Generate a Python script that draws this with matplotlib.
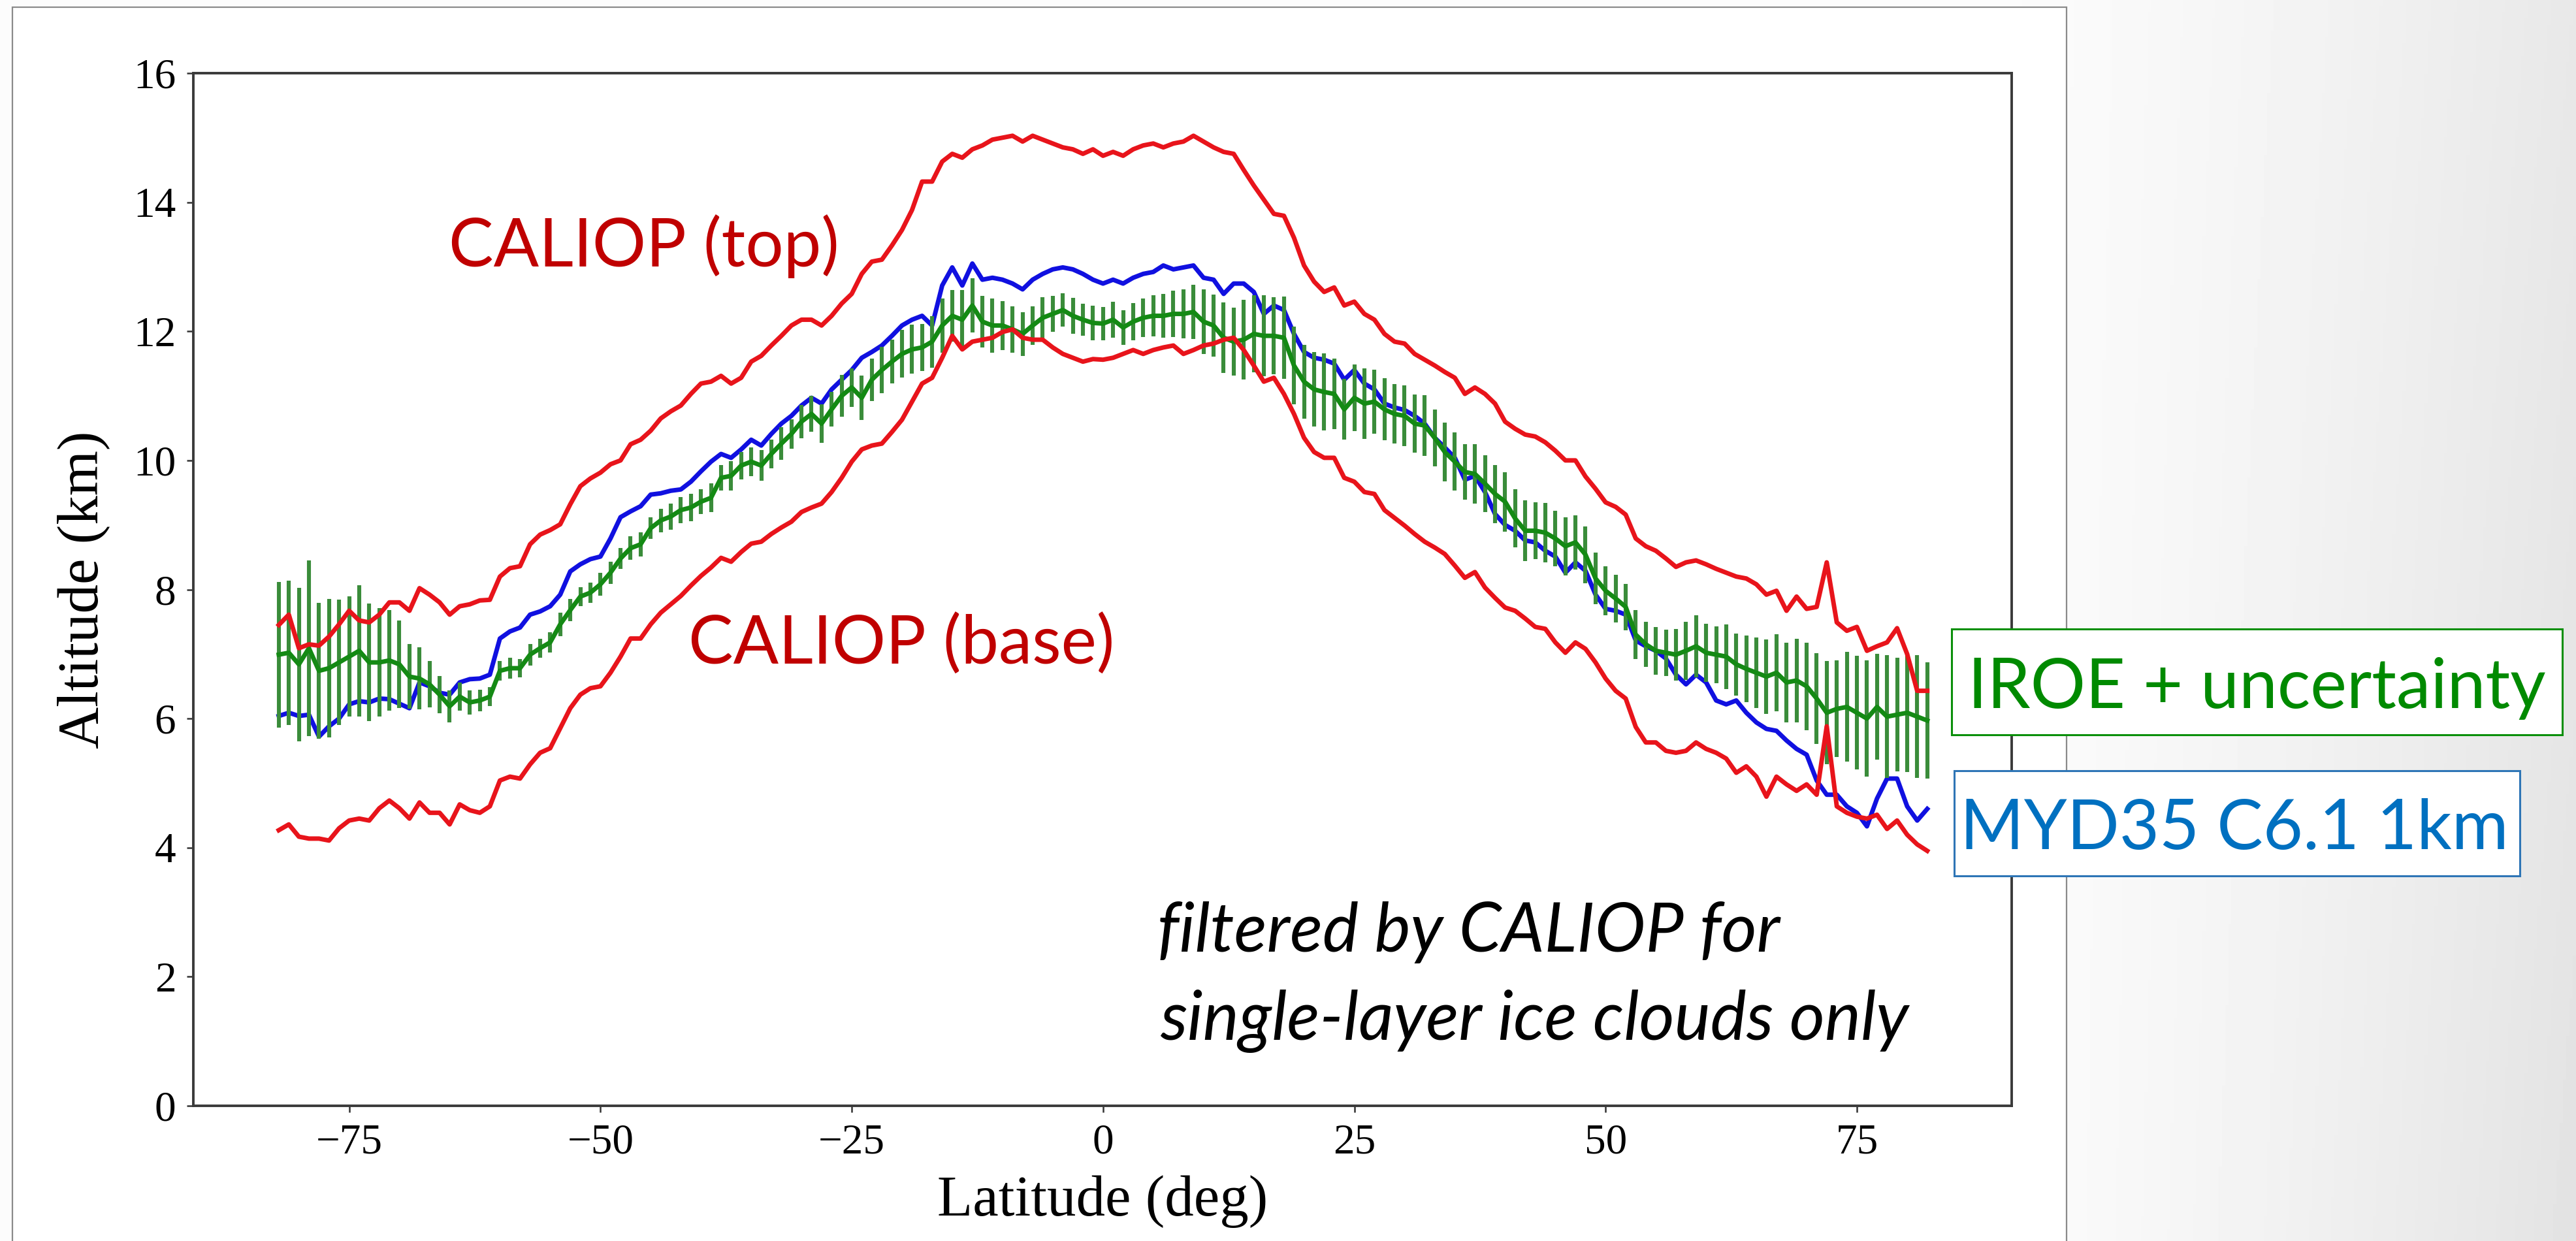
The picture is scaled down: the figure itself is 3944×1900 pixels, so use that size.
import matplotlib
matplotlib.use("Agg")
import matplotlib.pyplot as plt
import numpy as np
from matplotlib.patches import Rectangle

# latitude grid (1 deg bins) and zonal mean heights (km)
lat = np.arange(-82, 83)

caliop_top = [
    7.45, 7.61, 7.09, 7.15, 7.13, 7.27, 7.46, 7.67, 7.52, 7.49,
    7.61, 7.80, 7.80, 7.67, 8.02, 7.92, 7.80, 7.61, 7.74, 7.77,
    7.83, 7.84, 8.20, 8.33, 8.36, 8.70, 8.85, 8.92, 9.01, 9.32,
    9.60, 9.72, 9.81, 9.94, 10.00, 10.25, 10.32, 10.46, 10.65, 10.76,
    10.85, 11.03, 11.19, 11.22, 11.31, 11.19, 11.28, 11.53, 11.62, 11.78,
    11.93, 12.09, 12.18, 12.18, 12.09, 12.24, 12.43, 12.58, 12.89, 13.08,
    13.11, 13.33, 13.57, 13.88, 14.32, 14.32, 14.63, 14.75, 14.69, 14.82,
    14.88, 14.97, 15.00, 15.03, 14.94, 15.03, 14.97, 14.91, 14.85, 14.82,
    14.75, 14.82, 14.72, 14.78, 14.72, 14.82, 14.88, 14.91, 14.85, 14.91,
    14.94, 15.03, 14.94, 14.85, 14.78, 14.75, 14.50, 14.26, 14.04, 13.82,
    13.79, 13.45, 13.02, 12.77, 12.61, 12.68, 12.40, 12.46, 12.27, 12.18,
    11.96, 11.84, 11.81, 11.65, 11.56, 11.47, 11.37, 11.28, 11.03, 11.13,
    11.03, 10.88, 10.60, 10.49, 10.40, 10.37, 10.28, 10.15, 10.00, 10.00,
    9.75, 9.56, 9.35, 9.28, 9.16, 8.79, 8.67, 8.60, 8.48, 8.35,
    8.42, 8.45, 8.39, 8.32, 8.26, 8.20, 8.17, 8.08, 7.92, 7.98,
    7.67, 7.89, 7.70, 7.73, 8.42, 7.49, 7.36, 7.42, 7.05, 7.12,
    7.18, 7.40, 7.00, 6.43, 6.43,
]

caliop_base = [
    4.27, 4.36, 4.17, 4.14, 4.14, 4.11, 4.30, 4.42, 4.45, 4.42,
    4.61, 4.73, 4.61, 4.45, 4.70, 4.54, 4.54, 4.36, 4.67, 4.58,
    4.54, 4.64, 5.04, 5.10, 5.07, 5.29, 5.47, 5.54, 5.85, 6.16,
    6.37, 6.47, 6.50, 6.71, 6.96, 7.24, 7.24, 7.46, 7.64, 7.77,
    7.90, 8.06, 8.21, 8.34, 8.49, 8.43, 8.58, 8.71, 8.74, 8.86,
    8.96, 9.05, 9.20, 9.27, 9.33, 9.51, 9.73, 9.98, 10.17, 10.23,
    10.26, 10.44, 10.63, 10.91, 11.19, 11.28, 11.59, 11.93, 11.72, 11.84,
    11.87, 11.90, 11.99, 12.03, 11.90, 11.87, 11.87, 11.75, 11.65, 11.59,
    11.53, 11.57, 11.56, 11.59, 11.65, 11.71, 11.65, 11.71, 11.75, 11.78,
    11.65, 11.71, 11.78, 11.81, 11.87, 11.90, 11.71, 11.47, 11.22, 11.28,
    11.03, 10.72, 10.35, 10.13, 10.04, 10.04, 9.73, 9.67, 9.51, 9.48,
    9.23, 9.11, 8.99, 8.86, 8.74, 8.65, 8.55, 8.37, 8.18, 8.27,
    8.03, 7.87, 7.72, 7.67, 7.55, 7.42, 7.39, 7.18, 7.02, 7.18,
    7.08, 6.87, 6.62, 6.43, 6.31, 5.87, 5.63, 5.63, 5.50, 5.47,
    5.50, 5.63, 5.53, 5.47, 5.38, 5.16, 5.26, 5.10, 4.79, 5.10,
    4.98, 4.88, 4.98, 4.82, 5.88, 4.64, 4.54, 4.48, 4.45, 4.51,
    4.29, 4.42, 4.20, 4.05, 3.95,
]

myd35 = [
    6.04, 6.09, 6.04, 6.06, 5.72, 5.88, 6.00, 6.22, 6.27, 6.25,
    6.31, 6.30, 6.23, 6.16, 6.56, 6.50, 6.40, 6.37, 6.56, 6.61,
    6.62, 6.68, 7.24, 7.35, 7.41, 7.61, 7.66, 7.74, 7.92, 8.28,
    8.39, 8.47, 8.51, 8.79, 9.12, 9.21, 9.29, 9.47, 9.49, 9.53,
    9.55, 9.67, 9.83, 9.98, 10.10, 10.04, 10.17, 10.32, 10.23, 10.41,
    10.57, 10.69, 10.85, 10.97, 10.88, 11.10, 11.25, 11.40, 11.59, 11.68,
    11.78, 11.93, 12.09, 12.18, 12.24, 12.09, 12.71, 12.99, 12.71, 13.05,
    12.80, 12.83, 12.80, 12.74, 12.65, 12.80, 12.89, 12.96, 12.99, 12.96,
    12.89, 12.80, 12.74, 12.80, 12.74, 12.83, 12.89, 12.92, 13.02, 12.96,
    12.99, 13.02, 12.83, 12.80, 12.58, 12.74, 12.74, 12.61, 12.27, 12.40,
    12.33, 11.96, 11.68, 11.59, 11.56, 11.50, 11.25, 11.40, 11.19, 11.10,
    10.88, 10.82, 10.78, 10.69, 10.57, 10.35, 10.20, 10.04, 9.70, 9.76,
    9.51, 9.17, 9.00, 8.91, 8.76, 8.73, 8.60, 8.51, 8.26, 8.42,
    8.29, 7.92, 7.70, 7.67, 7.61, 7.21, 7.12, 7.05, 6.93, 6.68,
    6.53, 6.68, 6.56, 6.28, 6.22, 6.28, 6.09, 5.94, 5.84, 5.81,
    5.66, 5.53, 5.44, 5.04, 4.82, 4.82, 4.64, 4.54, 4.33, 4.76,
    5.07, 5.07, 4.64, 4.42, 4.60,
]

iroe = [
    6.99, 7.02, 6.84, 7.09, 6.74, 6.78, 6.87, 6.96, 7.05, 6.87,
    6.87, 6.90, 6.84, 6.65, 6.62, 6.53, 6.37, 6.19, 6.34, 6.25,
    6.28, 6.34, 6.74, 6.78, 6.78, 6.99, 7.09, 7.18, 7.46, 7.68,
    7.89, 7.95, 8.08, 8.26, 8.48, 8.64, 8.70, 8.95, 9.07, 9.13,
    9.23, 9.27, 9.36, 9.42, 9.73, 9.76, 9.92, 9.98, 9.92, 10.10,
    10.26, 10.41, 10.60, 10.72, 10.57, 10.79, 11.00, 11.13, 10.97, 11.25,
    11.40, 11.53, 11.65, 11.72, 11.75, 11.84, 12.09, 12.24, 12.18, 12.40,
    12.15, 12.09, 12.09, 12.03, 11.96, 12.09, 12.21, 12.27, 12.33, 12.24,
    12.18, 12.13, 12.12, 12.18, 12.06, 12.15, 12.21, 12.24, 12.24, 12.27,
    12.27, 12.30, 12.15, 12.09, 11.90, 11.84, 11.87, 11.96, 11.93, 11.93,
    11.90, 11.47, 11.22, 11.10, 11.06, 11.03, 10.79, 10.97, 10.88, 10.91,
    10.79, 10.72, 10.69, 10.57, 10.54, 10.35, 10.13, 9.98, 9.82, 9.79,
    9.64, 9.48, 9.36, 9.10, 8.91, 8.91, 8.88, 8.79, 8.67, 8.73,
    8.54, 8.17, 7.98, 7.86, 7.73, 7.30, 7.15, 7.05, 7.02, 6.99,
    7.05, 7.12, 7.02, 6.99, 6.96, 6.84, 6.77, 6.71, 6.65, 6.71,
    6.56, 6.59, 6.50, 6.31, 6.09, 6.15, 6.18, 6.09, 6.00, 6.18,
    6.03, 6.06, 6.09, 6.03, 5.97,
]

iroe_err = [
    1.13, 1.12, 1.19, 1.36, 1.05, 1.07, 0.97, 0.93, 1.02, 0.91,
    0.84, 0.78, 0.68, 0.50, 0.48, 0.36, 0.29, 0.25, 0.22, 0.19,
    0.17, 0.15, 0.15, 0.16, 0.14, 0.17, 0.15, 0.16, 0.18, 0.17,
    0.15, 0.16, 0.18, 0.17, 0.16, 0.18, 0.19, 0.17, 0.18, 0.20,
    0.20, 0.21, 0.19, 0.22, 0.20, 0.23, 0.21, 0.22, 0.24, 0.22,
    0.25, 0.23, 0.26, 0.28, 0.30, 0.27, 0.32, 0.30, 0.34, 0.33,
    0.36, 0.34, 0.37, 0.38, 0.36, 0.40, 0.42, 0.40, 0.46, 0.42,
    0.40, 0.42, 0.38, 0.36, 0.34, 0.30, 0.32, 0.28, 0.26, 0.28,
    0.25, 0.27, 0.26, 0.28, 0.27, 0.29, 0.30, 0.32, 0.34, 0.36,
    0.38, 0.42, 0.50, 0.48, 0.55, 0.53, 0.62, 0.60, 0.63, 0.60,
    0.64, 0.60, 0.57, 0.58, 0.60, 0.55, 0.47, 0.52, 0.55, 0.50,
    0.48, 0.46, 0.47, 0.45, 0.47, 0.44, 0.46, 0.45, 0.43, 0.46,
    0.44, 0.45, 0.46, 0.45, 0.47, 0.44, 0.46, 0.43, 0.45, 0.42,
    0.44, 0.40, 0.38, 0.37, 0.36, 0.38, 0.35, 0.37, 0.36, 0.40,
    0.45, 0.48, 0.45, 0.44, 0.50, 0.48, 0.52, 0.55, 0.58, 0.60,
    0.62, 0.65, 0.68, 0.70, 0.80, 0.75, 0.85, 0.88, 0.90, 0.82,
    0.95, 0.88, 0.92, 0.95, 0.90,
]

plt.rcParams["font.family"] = "Liberation Serif"

W, H = 3944, 1900
fig = plt.figure(figsize=(W / 200, H / 200), dpi=200)

# slide background: light grey gradient, darker towards the right / bottom
bg = fig.add_axes([0, 0, 1, 1], zorder=-10)
gx, gy = np.meshgrid(np.linspace(0, 1, 800), np.linspace(1, 0, 200))
t = np.clip((gx - 0.78) / 0.22, 0, 1)
shade = 0.985 - 0.075 * t ** 1.3 - 0.02 * t * (1 - gy)
bg.imshow(shade, extent=[0, 1, 0, 1], aspect="auto",
          cmap="gray", vmin=0, vmax=1)
bg.set_xlim(0, 1)
bg.set_ylim(0, 1)
bg.axis("off")
# the pasted chart picture with its thin grey frame
bg.add_patch(Rectangle((19 / W, -0.05), (3164 - 19) / W, 1.05 - 11 / H,
                       facecolor="white", edgecolor="#8a8a8a", lw=0.8))

ax = fig.add_axes([296 / W, (H - 1693) / H, (3080 - 296) / W, (1693 - 112) / H])
ax.set_facecolor("white")

ax.plot(lat, myd35, color="#1010e0", lw=2.5, zorder=3)
ax.errorbar(lat, iroe, yerr=iroe_err, color="#148a14", lw=2.5,
            ecolor="#3a8c3a", elinewidth=2.2, capsize=0, zorder=4)
ax.plot(lat, caliop_top, color="#e8141b", lw=2.5, zorder=5)
ax.plot(lat, caliop_base, color="#e8141b", lw=2.5, zorder=5)

ax.set_xlim(-90.5, 90.4)
ax.set_ylim(0, 16)
ax.set_xticks([-75, -50, -25, 0, 25, 50, 75])
ax.set_yticks(np.arange(0, 17, 2))
ax.tick_params(direction="out", length=3.6, width=0.9, color="#333333",
               labelsize=23.5, pad=6)
for s in ax.spines.values():
    s.set_color("#3a3a3a")
    s.set_linewidth(1.4)
ax.set_xlabel("Latitude (deg)", fontsize=32, labelpad=7)
ax.set_ylabel("Altitude (km)", fontsize=32, labelpad=13)

# slide annotations (Calibri-like sans)
sans = "Lato"
fig.text(687 / W, 1 - 408 / H, "CALIOP (top)", family=sans, fontsize=37,
         color="#c00000", ha="left", va="baseline")
fig.text(1054 / W, 1 - 1016 / H, "CALIOP (base)", family=sans, fontsize=37,
         color="#c00000", ha="left", va="baseline")
fig.text(1772 / W, 1 - 1457 / H, "filtered by CALIOP for", family=sans,
         style="italic", fontsize=37.5, color="black", ha="left", va="baseline")
fig.text(1776 / W, 1 - 1592 / H, "single-layer ice clouds only", family=sans,
         style="italic", fontsize=37.5, color="black", ha="left", va="baseline")

fig.add_artist(Rectangle((2988 / W, 1 - 1125 / H), (3923 - 2988) / W, 162 / H,
                         transform=fig.transFigure, facecolor="white",
                         edgecolor="#0a8f0a", lw=1.1, zorder=5))
fig.text(3455 / W, 1 - 1084 / H, "IROE + uncertainty", family=sans,
         fontsize=38, color="#008a00", ha="center", va="baseline", zorder=6)

fig.add_artist(Rectangle((2992 / W, 1 - 1341 / H), (3858 - 2992) / W, 161 / H,
                         transform=fig.transFigure, facecolor="white",
                         edgecolor="#2e75b6", lw=1.1, zorder=5))
fig.text(3421 / W, 1 - 1300 / H, "MYD35 C6.1 1km", family=sans,
         fontsize=38, color="#0070c0", ha="center", va="baseline", zorder=6)

fig.savefig("out.png", dpi=200)
